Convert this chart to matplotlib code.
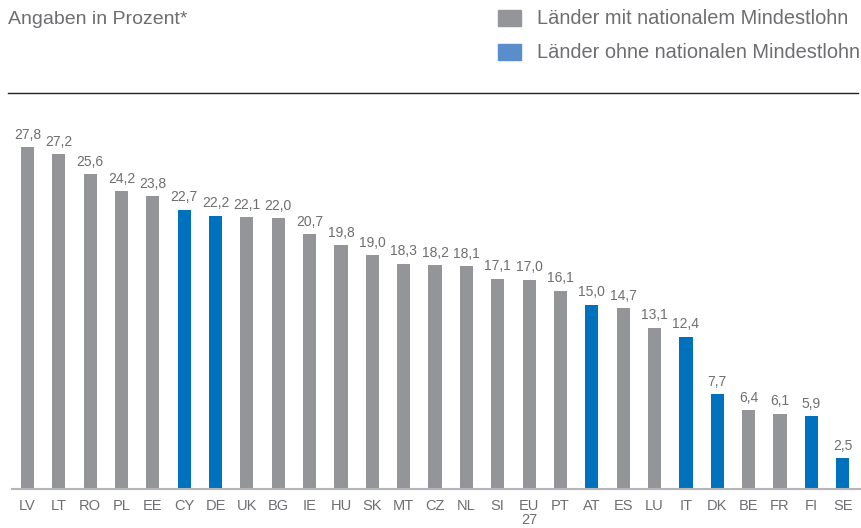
import matplotlib
matplotlib.use("Agg")
import matplotlib.pyplot as plt
from matplotlib.patches import Rectangle
from matplotlib.lines import Line2D

# Data
countries = ['LV', 'LT', 'RO', 'PL', 'EE', 'CY', 'DE', 'UK', 'BG', 'IE', 'HU', 'SK', 'MT',
             'CZ', 'NL', 'SI', 'EU\n27', 'PT', 'AT', 'ES', 'LU', 'IT', 'DK', 'BE', 'FR', 'FI', 'SE']
values = [27.8, 27.2, 25.6, 24.2, 23.8, 22.7, 22.2, 22.1, 22.0, 20.7, 19.8, 19.0, 18.3,
          18.2, 18.1, 17.1, 17.0, 16.1, 15.0, 14.7, 13.1, 12.4, 7.7, 6.4, 6.1, 5.9, 2.5]
no_min_wage = ['CY', 'DE', 'AT', 'IT', 'DK', 'FI', 'SE']

gray = '#939598'
blue = '#0071bc'
blue_legend = '#5a8dcc'
txt = '#6d6e71'

plt.rcParams['font.family'] = ['Liberation Sans', 'DejaVu Sans']

W, H = 862, 528
fig = plt.figure(figsize=(W / 100, H / 100), dpi=100)
ax = fig.add_axes([12 / W, (H - 489) / H, (860 - 12) / W, (489 - 93) / H])

colors = [blue if c in no_min_wage else gray for c in countries]
x = range(len(countries))
ax.bar(x, values, width=0.42, color=colors, zorder=2)

for xi, v in zip(x, values):
    ax.annotate(f'{v:.1f}'.replace('.', ','), (xi, v), xytext=(0, 4), textcoords='offset points',
                ha='center', va='bottom', fontsize=10, color=txt)

ax.set_xlim(-0.49, 26.55)
ax.set_ylim(0, 32.2)
ax.set_xticks(list(x))
ax.set_xticklabels(countries, fontsize=10.5, color=txt, linespacing=1.0)
ax.tick_params(axis='x', length=0, pad=7)
ax.set_yticks([])
for s in ['top', 'left', 'right']:
    ax.spines[s].set_visible(False)
ax.spines['bottom'].set_color('#b5b5b7')
ax.spines['bottom'].set_linewidth(1.5)

# top rule
fig.add_artist(Line2D([8 / W, 858 / W], [(H - 93) / H] * 2, color='#222222', lw=1.0))

# header text
fig.text(8 / W, (H - 19) / H, 'Angaben in Prozent*', fontsize=14, color=txt, va='center', ha='left')

# legend
for yc, col, label in [(18, gray, 'Länder mit nationalem Mindestlohn'),
                       (52, blue_legend, 'Länder ohne nationalen Mindestlohn')]:
    fig.add_artist(Rectangle((498 / W, (H - yc - 8) / H), 23 / W, 16 / H,
                             color=col, transform=fig.transFigure))
    fig.text(537 / W, (H - yc) / H, label, fontsize=14.4, color=txt, va='center', ha='left')

fig.savefig('out.png', dpi=100)
